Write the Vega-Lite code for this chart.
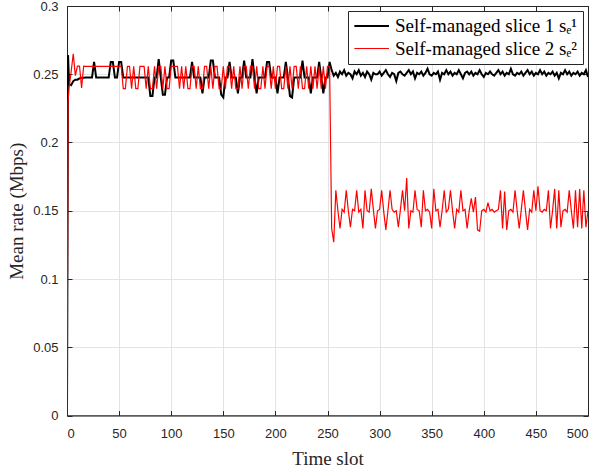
{
 "$schema": "https://vega.github.io/schema/vega-lite/v6.json",
 "width": 521,
 "height": 409.5,
 "autosize": {"type": "none"},
 "padding": {"left": 67, "top": 6, "right": 14, "bottom": 54.5},
 "background": "white",
 "config": {
  "view": {"stroke": "#262626", "strokeWidth": 1},
  "axis": {
   "labelFont": "Liberation Sans", "labelFontSize": 13, "labelColor": "#262626",
   "titleFont": "Liberation Serif", "titleFontSize": 19, "titleFontWeight": "normal", "titleColor": "#262626",
   "domainColor": "#262626", "tickColor": "#262626", "gridColor": "#e3e3e3", "gridWidth": 1,
   "tickSize": -5, "labelPadding": 14
  },
  "legend": {
   "strokeColor": "#262626", "fillColor": "white", "padding": 5, "cornerRadius": 0,
   "labelFont": "Liberation Serif", "labelFontSize": 19, "labelColor": "#000000",
   "symbolType": "M-1,0H3", "symbolSize": 300, "labelOffset": 22, "rowPadding": 3, "labelLimit": 400, "offset": 5
  }
 },
 "data": {"values": [
  {"t":0,"a":0,"b":0},
  {"t":1,"a":0.264,"b":0.230},
  {"t":2,"a":0.243,"b":0.240},
  {"t":4,"a":0.242,"b":0.252},
  {"t":6,"a":0.245,"b":0.265},
  {"t":8,"a":0.246,"b":0.249},
  {"t":10,"a":0.246,"b":0.256},
  {"t":12,"a":0.247,"b":0.256},
  {"t":14,"a":0.2475,"b":0.240},
  {"t":16,"a":0.2475,"b":0.256},
  {"t":18,"a":0.2476,"b":0.2558},
  {"t":20,"a":0.2476,"b":0.2558},
  {"t":22,"a":0.2476,"b":0.2558},
  {"t":24,"a":0.2476,"b":0.2558},
  {"t":26,"a":0.259,"b":0.2558},
  {"t":28,"a":0.2476,"b":0.2558},
  {"t":30,"a":0.2476,"b":0.2558},
  {"t":32,"a":0.2476,"b":0.2558},
  {"t":34,"a":0.2476,"b":0.2558},
  {"t":36,"a":0.2476,"b":0.2558},
  {"t":38,"a":0.2476,"b":0.2558},
  {"t":40,"a":0.2476,"b":0.2558},
  {"t":42,"a":0.259,"b":0.2558},
  {"t":44,"a":0.259,"b":0.2558},
  {"t":46,"a":0.2476,"b":0.2558},
  {"t":48,"a":0.2476,"b":0.2558},
  {"t":50,"a":0.259,"b":0.2558},
  {"t":52,"a":0.259,"b":0.2558},
  {"t":54,"a":0.2476,"b":0.2395},
  {"t":56,"a":0.2476,"b":0.2395},
  {"t":58,"a":0.2476,"b":0.2558},
  {"t":60,"a":0.2476,"b":0.2558},
  {"t":62,"a":0.2476,"b":0.2395},
  {"t":64,"a":0.2476,"b":0.2558},
  {"t":66,"a":0.2476,"b":0.2395},
  {"t":68,"a":0.2476,"b":0.2395},
  {"t":70,"a":0.2476,"b":0.2558},
  {"t":72,"a":0.2476,"b":0.2558},
  {"t":74,"a":0.2476,"b":0.2558},
  {"t":76,"a":0.2476,"b":0.2395},
  {"t":78,"a":0.2476,"b":0.2558},
  {"t":80,"a":0.234,"b":0.2395},
  {"t":82,"a":0.234,"b":0.2395},
  {"t":84,"a":0.2476,"b":0.2558},
  {"t":86,"a":0.2476,"b":0.2395},
  {"t":88,"a":0.261,"b":0.2558},
  {"t":90,"a":0.2476,"b":0.2558},
  {"t":92,"a":0.235,"b":0.2395},
  {"t":94,"a":0.235,"b":0.2558},
  {"t":96,"a":0.2476,"b":0.2395},
  {"t":98,"a":0.2476,"b":0.2395},
  {"t":100,"a":0.260,"b":0.2558},
  {"t":102,"a":0.260,"b":0.2558},
  {"t":104,"a":0.2476,"b":0.2558},
  {"t":106,"a":0.2476,"b":0.2558},
  {"t":108,"a":0.2476,"b":0.2395},
  {"t":110,"a":0.2476,"b":0.2558},
  {"t":112,"a":0.2476,"b":0.2395},
  {"t":114,"a":0.2476,"b":0.2558},
  {"t":116,"a":0.2476,"b":0.2395},
  {"t":118,"a":0.2476,"b":0.2395},
  {"t":120,"a":0.259,"b":0.2558},
  {"t":122,"a":0.2476,"b":0.2558},
  {"t":124,"a":0.2476,"b":0.2395},
  {"t":126,"a":0.2476,"b":0.2558},
  {"t":128,"a":0.2476,"b":0.2395},
  {"t":130,"a":0.236,"b":0.2395},
  {"t":132,"a":0.2476,"b":0.2558},
  {"t":134,"a":0.2476,"b":0.2558},
  {"t":136,"a":0.2476,"b":0.2395},
  {"t":138,"a":0.260,"b":0.2558},
  {"t":140,"a":0.260,"b":0.2395},
  {"t":142,"a":0.2476,"b":0.2558},
  {"t":144,"a":0.2476,"b":0.2558},
  {"t":146,"a":0.2476,"b":0.2395},
  {"t":148,"a":0.235,"b":0.2395},
  {"t":150,"a":0.233,"b":0.2558},
  {"t":152,"a":0.2476,"b":0.2395},
  {"t":154,"a":0.2476,"b":0.2558},
  {"t":156,"a":0.259,"b":0.2558},
  {"t":158,"a":0.2476,"b":0.2395},
  {"t":160,"a":0.2476,"b":0.2558},
  {"t":162,"a":0.2476,"b":0.2395},
  {"t":164,"a":0.236,"b":0.2395},
  {"t":166,"a":0.2476,"b":0.2558},
  {"t":168,"a":0.2476,"b":0.2395},
  {"t":170,"a":0.260,"b":0.2558},
  {"t":172,"a":0.2476,"b":0.2558},
  {"t":174,"a":0.2476,"b":0.2395},
  {"t":176,"a":0.2476,"b":0.2558},
  {"t":178,"a":0.261,"b":0.2558},
  {"t":180,"a":0.2476,"b":0.2395},
  {"t":182,"a":0.236,"b":0.2558},
  {"t":184,"a":0.2476,"b":0.2395},
  {"t":186,"a":0.2476,"b":0.2395},
  {"t":188,"a":0.2476,"b":0.2558},
  {"t":190,"a":0.2476,"b":0.2395},
  {"t":192,"a":0.259,"b":0.2558},
  {"t":194,"a":0.259,"b":0.2558},
  {"t":196,"a":0.2476,"b":0.2395},
  {"t":198,"a":0.2476,"b":0.2558},
  {"t":200,"a":0.2476,"b":0.2395},
  {"t":202,"a":0.236,"b":0.2558},
  {"t":204,"a":0.2476,"b":0.2558},
  {"t":206,"a":0.2476,"b":0.2395},
  {"t":208,"a":0.2476,"b":0.2395},
  {"t":210,"a":0.259,"b":0.2558},
  {"t":212,"a":0.2476,"b":0.2395},
  {"t":214,"a":0.234,"b":0.2558},
  {"t":216,"a":0.233,"b":0.2395},
  {"t":218,"a":0.2476,"b":0.2558},
  {"t":220,"a":0.2476,"b":0.2558},
  {"t":222,"a":0.2476,"b":0.2395},
  {"t":224,"a":0.2476,"b":0.2558},
  {"t":226,"a":0.260,"b":0.2395},
  {"t":228,"a":0.2476,"b":0.2395},
  {"t":230,"a":0.2476,"b":0.2558},
  {"t":232,"a":0.2476,"b":0.2395},
  {"t":234,"a":0.236,"b":0.2558},
  {"t":236,"a":0.2476,"b":0.2395},
  {"t":238,"a":0.2476,"b":0.2558},
  {"t":240,"a":0.2476,"b":0.2395},
  {"t":242,"a":0.259,"b":0.2558},
  {"t":244,"a":0.2476,"b":0.2395},
  {"t":246,"a":0.236,"b":0.2558},
  {"t":248,"a":0.2476,"b":0.2395},
  {"t":250,"a":0.2476,"b":0.2558},
  {"t":252,"a":0.259,"b":0.2558},
  {"t":254,"a":0.253,"b":0.137},
  {"t":256,"a":0.249,"b":0.127},
  {"t":258,"a":0.251,"b":0.165},
  {"t":260,"a":0.248,"b":0.150},
  {"t":262,"a":0.252,"b":0.137},
  {"t":264,"a":0.250,"b":0.151},
  {"t":266,"a":0.253,"b":0.149},
  {"t":268,"a":0.249,"b":0.165},
  {"t":270,"a":0.251,"b":0.150},
  {"t":272,"a":0.250,"b":0.138},
  {"t":274,"a":0.247,"b":0.151},
  {"t":276,"a":0.252,"b":0.150},
  {"t":278,"a":0.250,"b":0.165},
  {"t":280,"a":0.253,"b":0.149},
  {"t":282,"a":0.249,"b":0.151},
  {"t":284,"a":0.251,"b":0.137},
  {"t":286,"a":0.248,"b":0.165},
  {"t":288,"a":0.252,"b":0.150},
  {"t":290,"a":0.250,"b":0.149},
  {"t":292,"a":0.246,"b":0.166},
  {"t":294,"a":0.251,"b":0.151},
  {"t":296,"a":0.250,"b":0.137},
  {"t":298,"a":0.250,"b":0.150},
  {"t":300,"a":0.252,"b":0.151},
  {"t":302,"a":0.249,"b":0.165},
  {"t":304,"a":0.251,"b":0.149},
  {"t":306,"a":0.253,"b":0.136},
  {"t":308,"a":0.250,"b":0.150},
  {"t":310,"a":0.248,"b":0.165},
  {"t":312,"a":0.251,"b":0.151},
  {"t":314,"a":0.250,"b":0.149},
  {"t":316,"a":0.245,"b":0.150},
  {"t":318,"a":0.251,"b":0.138},
  {"t":320,"a":0.252,"b":0.151},
  {"t":322,"a":0.250,"b":0.165},
  {"t":324,"a":0.249,"b":0.150},
  {"t":326,"a":0.251,"b":0.174},
  {"t":328,"a":0.253,"b":0.137},
  {"t":330,"a":0.250,"b":0.150},
  {"t":332,"a":0.252,"b":0.149},
  {"t":334,"a":0.247,"b":0.165},
  {"t":336,"a":0.251,"b":0.151},
  {"t":338,"a":0.250,"b":0.150},
  {"t":340,"a":0.252,"b":0.138},
  {"t":342,"a":0.249,"b":0.165},
  {"t":344,"a":0.251,"b":0.150},
  {"t":346,"a":0.254,"b":0.151},
  {"t":348,"a":0.250,"b":0.149},
  {"t":350,"a":0.249,"b":0.137},
  {"t":352,"a":0.251,"b":0.166},
  {"t":354,"a":0.250,"b":0.150},
  {"t":356,"a":0.252,"b":0.151},
  {"t":358,"a":0.246,"b":0.138},
  {"t":360,"a":0.251,"b":0.150},
  {"t":362,"a":0.250,"b":0.165},
  {"t":364,"a":0.253,"b":0.149},
  {"t":366,"a":0.250,"b":0.151},
  {"t":368,"a":0.252,"b":0.165},
  {"t":370,"a":0.249,"b":0.150},
  {"t":372,"a":0.251,"b":0.137},
  {"t":374,"a":0.250,"b":0.151},
  {"t":376,"a":0.253,"b":0.149},
  {"t":378,"a":0.250,"b":0.165},
  {"t":380,"a":0.247,"b":0.150},
  {"t":382,"a":0.251,"b":0.151},
  {"t":384,"a":0.252,"b":0.137},
  {"t":386,"a":0.250,"b":0.150},
  {"t":388,"a":0.252,"b":0.159},
  {"t":390,"a":0.249,"b":0.149},
  {"t":392,"a":0.251,"b":0.160},
  {"t":394,"a":0.250,"b":0.136},
  {"t":396,"a":0.253,"b":0.135},
  {"t":398,"a":0.250,"b":0.150},
  {"t":400,"a":0.248,"b":0.151},
  {"t":402,"a":0.251,"b":0.149},
  {"t":404,"a":0.250,"b":0.156},
  {"t":406,"a":0.252,"b":0.150},
  {"t":408,"a":0.250,"b":0.151},
  {"t":410,"a":0.249,"b":0.149},
  {"t":412,"a":0.251,"b":0.150},
  {"t":414,"a":0.253,"b":0.151},
  {"t":416,"a":0.250,"b":0.165},
  {"t":418,"a":0.252,"b":0.137},
  {"t":420,"a":0.249,"b":0.164},
  {"t":422,"a":0.251,"b":0.136},
  {"t":424,"a":0.250,"b":0.150},
  {"t":426,"a":0.254,"b":0.151},
  {"t":428,"a":0.250,"b":0.149},
  {"t":430,"a":0.249,"b":0.165},
  {"t":432,"a":0.251,"b":0.150},
  {"t":434,"a":0.250,"b":0.137},
  {"t":436,"a":0.252,"b":0.151},
  {"t":438,"a":0.249,"b":0.165},
  {"t":440,"a":0.251,"b":0.150},
  {"t":442,"a":0.253,"b":0.136},
  {"t":444,"a":0.250,"b":0.151},
  {"t":446,"a":0.252,"b":0.149},
  {"t":448,"a":0.249,"b":0.165},
  {"t":450,"a":0.251,"b":0.150},
  {"t":452,"a":0.250,"b":0.168},
  {"t":454,"a":0.253,"b":0.150},
  {"t":456,"a":0.250,"b":0.149},
  {"t":458,"a":0.252,"b":0.151},
  {"t":460,"a":0.249,"b":0.150},
  {"t":462,"a":0.251,"b":0.165},
  {"t":464,"a":0.250,"b":0.137},
  {"t":466,"a":0.252,"b":0.150},
  {"t":468,"a":0.249,"b":0.166},
  {"t":470,"a":0.251,"b":0.137},
  {"t":472,"a":0.247,"b":0.165},
  {"t":474,"a":0.251,"b":0.138},
  {"t":476,"a":0.250,"b":0.150},
  {"t":478,"a":0.253,"b":0.151},
  {"t":480,"a":0.250,"b":0.149},
  {"t":482,"a":0.252,"b":0.165},
  {"t":484,"a":0.249,"b":0.150},
  {"t":486,"a":0.251,"b":0.137},
  {"t":488,"a":0.250,"b":0.165},
  {"t":490,"a":0.252,"b":0.138},
  {"t":492,"a":0.249,"b":0.166},
  {"t":494,"a":0.251,"b":0.137},
  {"t":496,"a":0.250,"b":0.165},
  {"t":498,"a":0.253,"b":0.138},
  {"t":500,"a":0.248,"b":0.150}
 ]},
 "transform": [{"fold": ["a", "b"], "as": ["series", "value"]}],
 "layer": [
  {
   "mark": {"type": "line", "clip": true},
   "encoding": {
    "x": {"field": "t", "type": "quantitative", "scale": {"domain": [0, 500], "nice": false, "zero": false},
          "axis": {"title": "Time slot", "values": [0,50,100,150,200,250,300,350,400,450,500], "grid": true, "labelPadding": 17, "titlePadding": 9}},
    "y": {"field": "value", "type": "quantitative", "scale": {"domain": [0, 0.3], "nice": false},
          "axis": {"title": "Mean rate (Mbps)", "values": [0,0.05,0.1,0.15,0.2,0.25,0.3], "format": ".2~f", "grid": true, "titlePadding": 6}},
    "color": {"field": "series", "type": "nominal",
              "scale": {"domain": ["a", "b"], "range": ["#000000", "#ff0000"]},
              "legend": {"title": null, "orient": "top-right", "offset": 5, "labelExpr": "datum.value == 'a' ? 'Self-managed slice 1 sₑ¹' : 'Self-managed slice 2 sₑ²'"}},
    "strokeWidth": {"field": "series", "type": "nominal",
              "scale": {"domain": ["a", "b"], "range": [2, 1.2]},
              "legend": {"title": null, "orient": "top-right", "offset": 5, "labelExpr": "datum.value == 'a' ? 'Self-managed slice 1 sₑ¹' : 'Self-managed slice 2 sₑ²'"}}
   }
  },
  {
   "mark": {"type": "line", "opacity": 0},
   "encoding": {
    "x": {"field": "t", "type": "quantitative", "axis": {"orient": "top", "labels": false, "title": null, "grid": false, "values": [0,50,100,150,200,250,300,350,400,450,500]}},
    "y": {"field": "value", "type": "quantitative", "axis": {"orient": "right", "labels": false, "title": null, "grid": false, "values": [0,0.05,0.1,0.15,0.2,0.25,0.3]}},
    "detail": {"field": "series"}
   }
  }
 ],
 "resolve": {"axis": {"x": "independent", "y": "independent"}}
}
